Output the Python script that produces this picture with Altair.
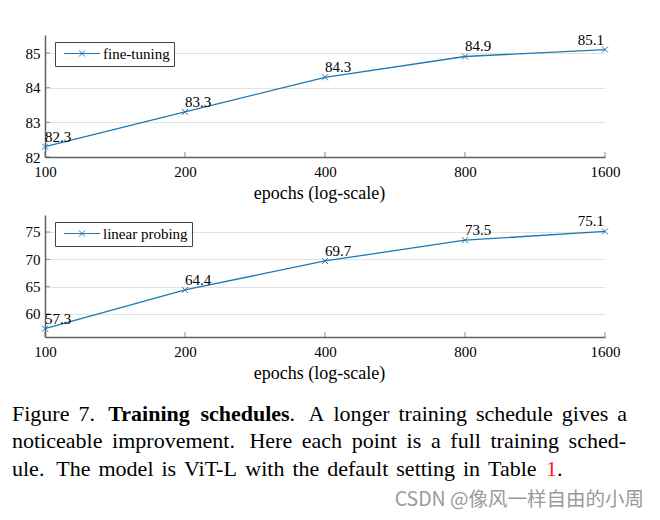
import altair as alt
import pandas as pd

# ---- data ----
epochs = [100, 200, 400, 800, 1600]
fine_tuning = [82.3, 83.3, 84.3, 84.9, 85.1]
linear_probing = [57.3, 64.4, 69.7, 73.5, 75.1]
ft_ticks = [82, 83, 84, 85]
lp_ticks = [60, 65, 70, 75]
ft_domain = [82.0, 85.52]
lp_domain = [55.79, 78.11]
series_names = ["fine-tuning", "linear probing"]
x_title = "epochs (log-scale)"
caption_l1 = ["Figure", "7.", "Training", "schedules", ".", "A", "longer",
              "training", "schedule", "gives", "a"]
caption_l2 = ["noticeable", "improvement.", "Here", "each", "point", "is", "a",
              "full", "training", "sched-"]
caption_l3 = ["ule.", "The", "model", "is", "ViT-L", "with", "the", "default",
              "setting", "in", "Table", "1", "."]
watermark = "CSDN @像风一样自由的小周"

BLUE = "#1f77b4"
AXIS = "#606060"
SERIF = "Liberation Serif"
X_PATH = "M-1,-1L1,1M-1,1L1,-1"
LEG_PATH = "M-3.6,0L3.6,0M-0.6,-0.6L0.6,0.6M-0.6,0.6L0.6,-0.6"
W, H = 560, 122


def panel(values, name, domain, ticks):
    df = pd.DataFrame({"epochs": epochs, "value": values, "series": name})
    x = alt.X("epochs:Q",
              scale=alt.Scale(type="log", domain=[epochs[0], epochs[-1]], nice=False),
              axis=alt.Axis(values=epochs, format="d", title=x_title, grid=False,
                            ticks=False, tickSize=0, labelFlush=False, labelPadding=7,
                            labelBaseline="top", titleX=274, titleY=41,
                            titleBaseline="alphabetic"))
    y = alt.Y("value:Q",
              scale=alt.Scale(domain=domain, nice=False, zero=False),
              axis=alt.Axis(values=ticks, title=None, grid=True, ticks=False,
                            tickSize=0, labelPadding=5))
    base = alt.Chart(df).encode(x=x, y=y)
    line = base.mark_line(color=BLUE, strokeWidth=1.3)
    pts = base.mark_point(shape=X_PATH, size=36, filled=False, strokeWidth=1,
                          opacity=1).encode(
        color=alt.Color("series:N", scale=alt.Scale(range=[BLUE]),
                        legend=alt.Legend(title=None, orient="none", legendX=10,
                                          legendY=7, symbolType=LEG_PATH,
                                          symbolSize=100, symbolStrokeWidth=1,
                                          symbolOffset=15.5,
                                          strokeColor="#444444", fillColor="white",
                                          padding=4, labelFont=SERIF,
                                          labelFontSize=15, labelColor="black",
                                          labelOffset=13.5)))
    lab_l = base.transform_filter(alt.datum.epochs < epochs[-1]).mark_text(
        align="left", baseline="alphabetic", dy=-5, font=SERIF, fontSize=15,
        color="black").encode(text=alt.Text("value:Q", format=".1f"))
    lab_r = base.transform_filter(alt.datum.epochs == epochs[-1]).mark_text(
        align="right", baseline="alphabetic", dy=-5, dx=-1, font=SERIF, fontSize=15,
        color="black").encode(text=alt.Text("value:Q", format=".1f"))
    xt = alt.Chart(pd.DataFrame({"epochs": epochs})).mark_tick(
        orient="vertical", size=5, thickness=1, yOffset=-2.5, color=AXIS).encode(
        x="epochs:Q", y=alt.YDatum(domain[0]))
    yt = alt.Chart(pd.DataFrame({"value": ticks})).mark_tick(
        orient="horizontal", size=5, thickness=1, xOffset=2.5, color=AXIS).encode(
        y="value:Q", x=alt.XDatum(epochs[0]))
    return alt.layer(line, xt, yt, pts, lab_l, lab_r).properties(width=W, height=H)


# ---- caption typesetting (Times metrics, justified like the PDF) ----
CAP = 22
REG = {" ": 250, ".": 250, "-": 333, "1": 500, "7": 500,
       "A": 722, "F": 556, "H": 722, "L": 611, "T": 611, "V": 722,
       "a": 444, "b": 500, "c": 444, "d": 500, "e": 444, "f": 333, "g": 500,
       "h": 500, "i": 278, "l": 278, "m": 778, "n": 500, "o": 500, "p": 500,
       "r": 333, "s": 389, "t": 278, "u": 500, "v": 500, "w": 722}
BOLD = {"T": 667, "r": 444, "a": 500, "i": 278, "n": 556, "g": 500, "s": 389,
        "c": 444, "h": 556, "e": 444, "d": 556, "u": 556, "l": 278}
KERN = {"Vi": -60, "T-": -70}


def width(word, bold=False):
    tab = BOLD if bold else REG
    w = sum(tab.get(c, 500) for c in word)
    if not bold:
        w += sum(KERN.get(word[i:i + 2], 0) for i in range(len(word) - 1))
    return w / 1000 * CAP


def layout(words, bold_idx, attached, left, right=None, anchor=None):
    """Return x (page px) of each word; gaps after a full stop are 1.5x."""
    ws = [width(w, i in bold_idx) for i, w in enumerate(words)]
    weights = []
    for i in range(1, len(words)):
        if i in attached:
            weights.append(0.0)
        else:
            weights.append(1.5 if words[i - 1].endswith(".") else 1.0)
    if right is not None:
        g = (right - left - sum(ws)) / sum(weights)
    else:
        k, xk = anchor
        g = (xk - left - sum(ws[:k])) / sum(weights[:k])
    xs = [left]
    for i in range(1, len(words)):
        xs.append(xs[-1] + ws[i - 1] + weights[i - 1] * g)
    return xs


one = pd.DataFrame({"k": [0]})
OX, OY = 45, 395   # page position of the caption view origin


def seg(text, x, y, **kw):
    opts = dict(align="left", baseline="alphabetic", font=SERIF, fontSize=CAP,
                color="black")
    opts.update(kw)
    return alt.Chart(one).mark_text(text=text, **opts).encode(
        x=alt.value(x), y=alt.value(y))


layers = []
lines = [
    (caption_l1, {2, 3}, {4}, dict(right=627), 26, {}),
    (caption_l2, set(), set(), dict(right=626), 53, {}),
    (caption_l3, set(), {12}, dict(anchor=(11, 546)), 81, {11: "#ff1a1a"}),
]
for words, bold_idx, attached, kw, yb, colors in lines:
    xs = layout(words, bold_idx, attached, 12, **kw)
    for i, (w, xp) in enumerate(zip(words, xs)):
        extra = {}
        if i in bold_idx:
            extra["fontWeight"] = "bold"
        if i in colors:
            extra["color"] = colors[i]
        layers.append(seg(w, round(xp - OX, 1), yb, **extra))

layers.append(seg(watermark, 599, 111, align="right", font="Noto Sans CJK SC",
                  fontSize=19.5, color="#9a9a9a"))
caption = alt.layer(*layers).properties(width=W, height=120)

top = panel(fine_tuning, series_names[0], ft_domain, ft_ticks)
bottom = panel(linear_probing, series_names[1], lp_domain, lp_ticks)

chart = alt.vconcat(top, bottom, caption, spacing=58, bounds="flush").resolve_scale(
    color="independent").resolve_legend(color="independent").properties(
    padding={"left": 4, "top": 24, "right": 4, "bottom": 0}
).configure_view(stroke=None).configure_axis(
    domainColor=AXIS, domainWidth=1.5, gridColor="#e2e2e2", gridWidth=1.2,
    labelFont=SERIF, labelFontSize=15, labelColor="black",
    titleFont=SERIF, titleFontSize=18, titleFontWeight="normal", titleColor="black"
)

chart.save("out.html", embed_options={"renderer": "svg", "actions": False})
